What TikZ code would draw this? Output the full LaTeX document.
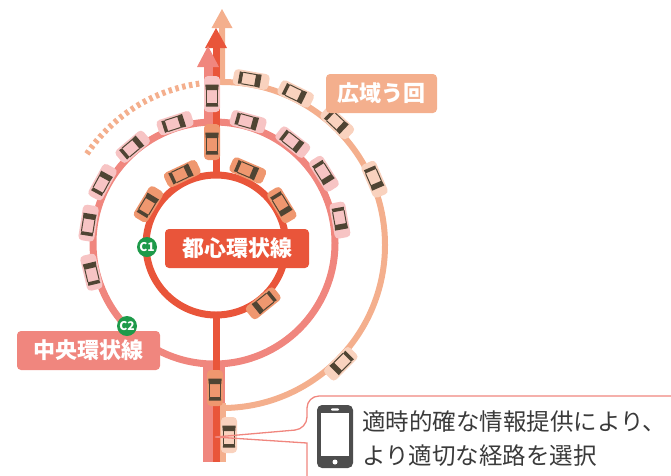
\documentclass[tikz,border=0pt]{standalone}
\usepackage{fontspec}
\newfontfamily\jp{Noto Sans CJK JP}
\usetikzlibrary{calc}

\definecolor{ringC}{HTML}{E9553A}
\definecolor{ringM}{HTML}{F0867E}
\definecolor{ringO}{HTML}{F4AF8D}
\definecolor{carC}{HTML}{EF976F}
\definecolor{carM}{HTML}{F7C4C4}
\definecolor{carO}{HTML}{F9D2BE}
\definecolor{glass}{HTML}{4F4433}
\definecolor{badgegreen}{HTML}{1E9A4A}
\definecolor{ink}{HTML}{3A3A3A}
\definecolor{phonegray}{HTML}{4D4D4D}

\tikzset{
  car/.pic={
    \fill[#1, rounded corners=4pt] (-18,-8) rectangle (18,8);
    \fill[glass] (4,-6.2) -- (9.5,-6.7) -- (9.5,6.7) -- (4,6.2) -- cycle;
    \fill[glass] (-9,-5.7) -- (-12.5,-6.2) -- (-12.5,6.2) -- (-9,5.7) -- cycle;
    \draw[glass, line width=1pt] (-9,5.8) -- (4,5.8) (-9,-5.8) -- (4,-5.8);
  },
  tag/.style={rounded corners=4pt, text=white, inner sep=0pt,
    minimum height=39pt, font=\jp\bfseries\fontsize{22}{22}\selectfont},
  badge/.style={circle, fill=badgegreen, text=white, inner sep=0pt,
    minimum size=20pt, font=\jp\bfseries\fontsize{12}{12}\selectfont},
  callout/.style={draw=ringM, line width=1.3pt},
  infotext/.style={anchor=base west, inner sep=0pt, text=ink,
    font=\jp\fontsize{23.5}{23.5}\selectfont},
}

\begin{document}
\begin{tikzpicture}[x=1pt, y=1pt, line cap=butt]
\useasboundingbox (0,0) rectangle (671,-475);

\coordinate (cO) at (222,-245);
\coordinate (cM) at (214,-243);
\coordinate (cI) at (216,-245);

% wide detour route (outer)
\draw[ringO, line width=6pt, line join=miter] (222,-28) -- (222,-82)
  arc[start angle=90, end angle=-90, radius=163];
\fill[ringO] (211.5,-28) -- (222,-9) -- (232.5,-28) -- cycle;
\draw[ringO, line width=6pt, dash pattern=on 3.5pt off 3.5pt]
  ($(cO)+(146:163)$) arc[start angle=146, end angle=98, radius=163];

% central circular route (middle)
\draw[ringM, line width=7pt] (cM) circle (121);
\fill[ringM] (203,-362) rectangle (225,-462);
\fill[ringO] (219,-403) rectangle (226,-462);

% inner circular route
\draw[ringC, line width=7pt] (cI) circle (70);
\draw[ringC, line width=7pt] (216,-48) -- (216,-175);
\draw[ringC, line width=7pt] (216,-315) -- (216,-462);
\fill[ringC] (205,-48) -- (216,-28) -- (227,-48) -- cycle;

% middle route arrow out of the ring
\draw[ringM, line width=9pt] (208,-66) -- (208,-123);
\fill[ringM] (197,-67) -- (208,-46) -- (219,-67) -- cycle;

% cars on the outer route
\foreach \a/\r in {80/168, 64/168, 46.7/168, 23.3/166, -45/168}
  \path (cO) ++(\a:\r) pic[rotate=\a-90] {car=carO};
\path (229,-435) pic[rotate=90] {car=carO};

% cars on the middle route
\foreach \a/\r in {108/126, 130.2/126, 151.4/127, 171/127, 193.4/126,
                   74.3/126, 52/128, 32.2/130, 10.3/128}
  \path (cM) ++(\a:\r) pic[rotate=\a-90] {car=carM};
\path (212,-94) pic[rotate=90] {car=carM};

% cars on the inner route
\foreach \a/\r in {115.3/79, 148.9/79, 66.9/81, 31.2/77, -51/75}
  \path (cI) ++(\a:\r) pic[rotate=\a-90] {car=carC};
\path (212,-142) pic[rotate=90] {car=carC};
\path (215,-388) pic[rotate=90] {car=carC};

% route labels
\node[tag, fill=ringC, minimum width=144pt] (lblC1) at (237,-248.5) {都心環状線};
\node[tag, fill=ringM, minimum width=143pt] (lblC2) at (88.5,-350.5) {中央環状線};
\node[tag, fill=ringO, minimum width=111pt] (lblOut) at (381.5,-93.5) {広域う回};
\node[badge] (c1) at (147,-247) {C1};
\node[badge] (c2) at (127,-326) {C2};

% information callout
\coordinate (tip) at (215,-437);
\draw[callout] (700,-396) [rounded corners=12pt] -| (307,-429)
  [sharp corners] -- (tip) -- (307,-443) -- (307,-490);

% smartphone icon
\fill[phonegray, rounded corners=5pt] (317,-405) rectangle (353,-468);
\fill[white] (321,-413) rectangle (349,-456);
\fill[white, rounded corners=1pt] (331,-408.3) rectangle (339,-410.5);
\fill[white] (335,-462) circle (2.5);

\node[infotext] (info1) at (362,-430) {適時的確な情報提供により、};
\node[infotext] (info2) at (362,-464) {より適切な経路を選択};
\end{tikzpicture}
\end{document}
